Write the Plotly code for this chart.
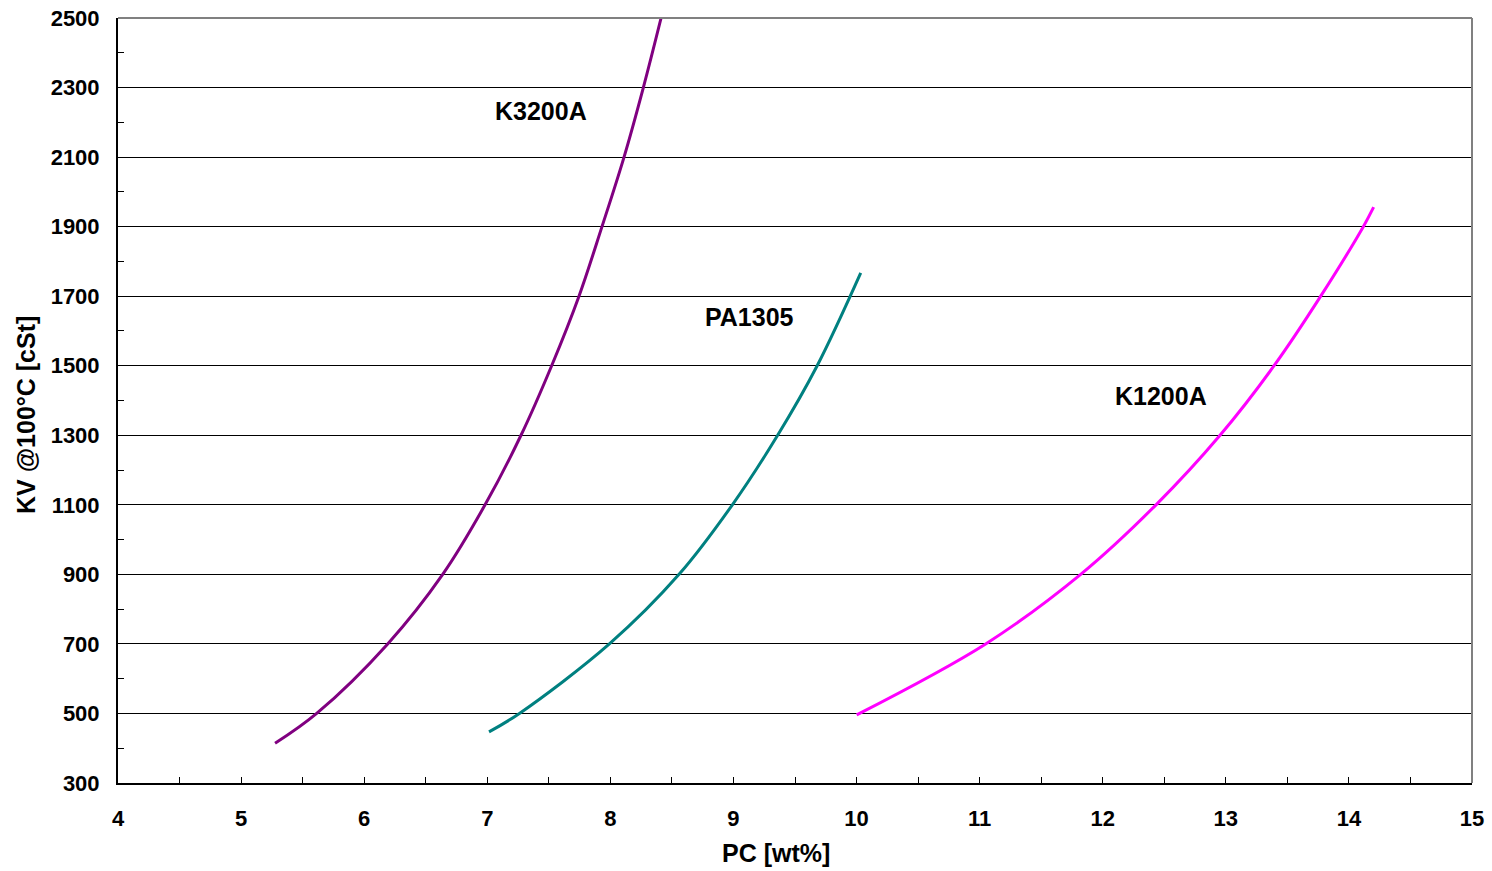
import plotly.graph_objects as go

# K3200A
k3200_x = [5.276, 5.614, 6.191, 6.638, 6.982, 7.274, 7.523, 7.745, 7.932, 8.111, 8.268, 8.412]
k3200_y = [414, 500, 700, 900, 1100, 1300, 1500, 1700, 1900, 2100, 2300, 2500]
# PA1305
pa1305_x = [7.014, 7.261, 7.992, 8.558, 8.991, 9.359, 9.680, 10.034]
pa1305_y = [447, 500, 700, 900, 1100, 1300, 1500, 1767]
# K1200A
k1200_x = [10.001, 11.049, 11.821, 12.433, 12.953, 13.392, 13.771, 14.117, 14.201]
k1200_y = [496, 700, 900, 1100, 1300, 1500, 1700, 1900, 1956]

series_names = ["K3200A", "PA1305", "K1200A"]
series_colors = ["#800080", "#008080", "#FF00FF"]
label_x = [7.44, 9.13, 12.47]
label_y = [2233, 1640, 1413]

x_title = "PC [wt%]"
y_title = "KV @100°C [cSt]"

FONT = "Liberation Sans, Arial, sans-serif"

fig = go.Figure()
for name, xs, ys, col in zip(series_names, [k3200_x, pa1305_x, k1200_x],
                             [k3200_y, pa1305_y, k1200_y], series_colors):
    fig.add_trace(go.Scatter(x=xs, y=ys, mode="lines", name=name,
                             line=dict(color=col, width=3, shape="spline", smoothing=1.0)))

for name, lx, ly in zip(series_names, label_x, label_y):
    fig.add_annotation(x=lx, y=ly, text="<b>%s</b>" % name, showarrow=False,
                       font=dict(family=FONT, size=25, color="black"))

# axis titles
fig.add_annotation(xref="paper", yref="paper", x=0.486, y=-0.0915, text="<b>%s</b>" % x_title,
                   showarrow=False, font=dict(family=FONT, size=25, color="black"),
                   xanchor="center", yanchor="middle")
fig.add_annotation(xref="paper", yref="paper", x=-0.068, y=0.481, text="<b>%s</b>" % y_title,
                   showarrow=False, textangle=-90, font=dict(family=FONT, size=25, color="black"),
                   xanchor="center", yanchor="middle")

# gray top and right border
fig.add_shape(type="line", xref="x domain", yref="y domain", x0=0, x1=1, y0=1, y1=1,
              line=dict(color="#808080", width=2))
fig.add_shape(type="line", xref="x domain", yref="y domain", x0=1, x1=1, y0=0, y1=1,
              line=dict(color="#808080", width=2))

fig.update_layout(
    width=1492, height=871,
    margin=dict(l=118, r=20, t=18, b=88, autoexpand=False),
    plot_bgcolor="white", paper_bgcolor="white",
    showlegend=False,
    font=dict(family=FONT, size=22, color="black"),
    xaxis=dict(range=[4, 15], tick0=4, dtick=1, showgrid=False, zeroline=False,
               showline=True, linecolor="black", linewidth=2,
               ticks="inside", ticklen=6, tickcolor="black", tickwidth=1,
               minor=dict(dtick=0.5, ticks="inside", ticklen=6, tickcolor="black", showgrid=False),
               tickfont=dict(family=FONT, size=22, color="black"),
               ticklabelstandoff=15,
               tickprefix="<b>", ticksuffix="</b>"),
    yaxis=dict(range=[300, 2500], tick0=300, dtick=200, showgrid=True, gridcolor="black",
               gridwidth=1, zeroline=False,
               showline=True, linecolor="black", linewidth=2,
               ticks="",
               minor=dict(dtick=100, tick0=300, ticks="inside", ticklen=6, tickcolor="black", showgrid=False),
               tickfont=dict(family=FONT, size=22, color="black"),
               ticklabelstandoff=12,
               tickprefix="<b>", ticksuffix="</b>"),
)

fig.write_html("out.html")
